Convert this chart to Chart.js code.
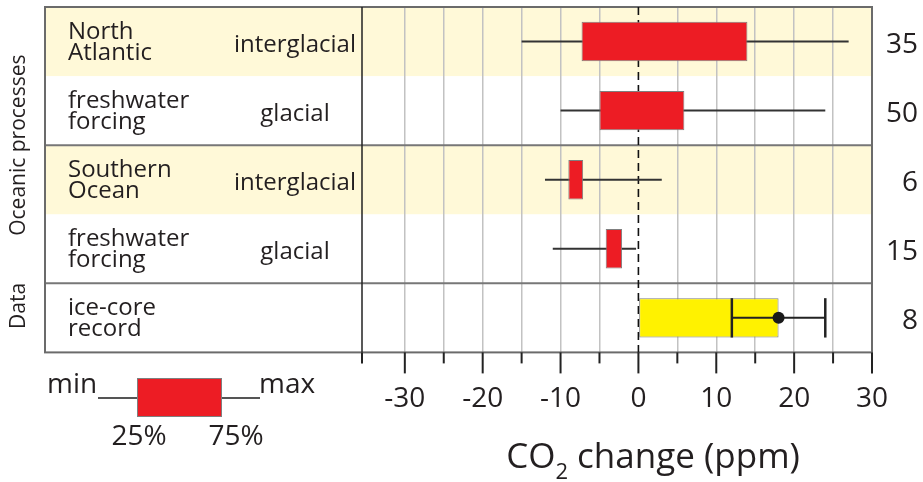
<!DOCTYPE html>
<html>
<head>
<meta charset="utf-8">
<script src="https://cdn.jsdelivr.net/npm/chart.js@4.4.1/dist/chart.umd.min.js"></script>
<style>
  html, body { margin: 0; padding: 0; background: #fff; }
  #wrap { width: 923px; height: 482px; position: relative; }
</style>
</head>
<body>
<div id="wrap"><canvas id="co2-chart"></canvas></div>
<script>
// Rows, top to bottom
const regionLabels = [['North', 'Atlantic'], ['freshwater', 'forcing'], ['Southern', 'Ocean'], ['freshwater', 'forcing'], ['ice-core', 'record']];
const climateStates = ['interglacial', 'glacial', 'interglacial', 'glacial', ''];
const sampleCounts = [35, 50, 6, 15, 8];
const shadedRows = [true, false, true, false, false];

// CO2 change (ppm)
const whiskerMin = [-15, -10, -12, -11, 12];
const boxLow = [-7.3, -5, -9, -4.2, 0];
const boxHigh = [14, 5.9, -7.1, -2.1, 18];
const whiskerMax = [27, 24, 3, -0.3, 24];
const medianValues = [null, null, null, null, 12];
const meanValues = [null, null, null, null, 18];

// row groups on the far left
const groupNames = ['Oceanic processes', 'Data'];
const groupFirstRow = [0, 4];
const groupLastRow = [3, 4];

// x axis
const xMin = -35.5;
const xMax = 30;
const xTickValues = [-30, -25, -20, -15, -10, -5, 0, 5, 10, 15, 20, 25, 30];
const xLabelledTicks = [-30, -20, -10, 0, 10, 20, 30];

const FONT = '"Open Sans", "Noto Sans", sans-serif';
const RED = '#ed1c24';
const YELLOW = '#fff200';
const CREAM = '#fff9d8';
const FRAME_LEFT = 45;

function rowBand(chart, i) {
    const y = chart.scales.y;
    const c = y.getPixelForValue(i);
    const half = (y.getPixelForValue(1) - y.getPixelForValue(0)) / 2;
    return { top: c - half, bottom: c + half, mid: c };
}

function line(ctx, x1, y1, x2, y2, color, width) {
    ctx.beginPath();
    ctx.moveTo(x1, y1);
    ctx.lineTo(x2, y2);
    ctx.strokeStyle = color;
    ctx.lineWidth = width;
    ctx.stroke();
}

const panelPlugin = {
    id: 'panel',
    beforeDraw(chart) {
        const ctx = chart.ctx;
        const area = chart.chartArea;
        ctx.save();
        ctx.fillStyle = '#fff';
        ctx.fillRect(0, 0, chart.width, chart.height);
        shadedRows.forEach((shaded, i) => {
            if (!shaded) return;
            const b = rowBand(chart, i);
            ctx.fillStyle = CREAM;
            ctx.fillRect(FRAME_LEFT, b.top, area.right - FRAME_LEFT, b.bottom - b.top);
        });
        ctx.restore();
    },
    beforeDatasetsDraw(chart) {
        const ctx = chart.ctx;
        const area = chart.chartArea;
        const x = chart.scales.x;
        ctx.save();
        // group separators
        groupFirstRow.forEach(first => {
            if (first === 0) return;
            const b = rowBand(chart, first);
            line(ctx, FRAME_LEFT, b.top, area.right, b.top, '#777', 2);
        });
        // separator between the two oceanic blocks
        const mid = rowBand(chart, 2);
        line(ctx, FRAME_LEFT, mid.top, area.right, mid.top, '#777', 2);
        // outer frame and divider
        ctx.strokeStyle = '#6b6b6b';
        ctx.lineWidth = 2;
        ctx.strokeRect(FRAME_LEFT, area.top, area.right - FRAME_LEFT, area.bottom - area.top);
        line(ctx, area.left, area.top, area.left, area.bottom, '#222', 1.5);
        // zero line
        ctx.setLineDash([8, 5]);
        const x0 = x.getPixelForValue(0);
        line(ctx, x0, area.top, x0, area.bottom, '#111', 1.6);
        ctx.setLineDash([]);
        // whiskers behind the boxes
        whiskerMin.forEach((lo, i) => {
            if (medianValues[i] !== null) return;
            const b = rowBand(chart, i);
            line(ctx, x.getPixelForValue(lo), b.mid, x.getPixelForValue(whiskerMax[i]), b.mid, '#333', 2);
        });
        ctx.restore();
    },
    afterDatasetsDraw(chart) {
        const ctx = chart.ctx;
        const x = chart.scales.x;
        const meta = chart.getDatasetMeta(0);
        ctx.save();
        medianValues.forEach((med, i) => {
            if (med === null) return;
            const bar = meta.data[i];
            const half = bar.height / 2;
            const yc = bar.y;
            const xm = x.getPixelForValue(med);
            const xh = x.getPixelForValue(whiskerMax[i]);
            line(ctx, xm, yc - half, xm, yc + half, '#222', 2.5);
            line(ctx, xm, yc, xh, yc, '#222', 2);
            line(ctx, xh, yc - half, xh, yc + half, '#222', 2.5);
            ctx.beginPath();
            ctx.arc(x.getPixelForValue(meanValues[i]), yc, 6, 0, Math.PI * 2);
            ctx.fillStyle = '#1a1a1a';
            ctx.fill();
        });
        ctx.restore();
    },
    afterDraw(chart) {
        const ctx = chart.ctx;
        const area = chart.chartArea;
        const x = chart.scales.x;
        ctx.save();

        // tick marks under the frame
        const tickVals = [xMin].concat(xTickValues);
        tickVals.forEach(v => {
            const px = x.getPixelForValue(v);
            const len = xLabelledTicks.includes(v) ? 21 : 11;
            line(ctx, px, area.bottom, px, area.bottom + len, '#222', 2);
        });

        // row labels
        ctx.fillStyle = '#231f20';
        ctx.font = '24px ' + FONT;
        ctx.textBaseline = 'alphabetic';
        regionLabels.forEach((lines, i) => {
            const b = rowBand(chart, i);
            ctx.textAlign = 'left';
            ctx.fillText(lines[0], 68, b.mid - 3);
            ctx.fillText(lines[1], 68, b.mid + 18);
            ctx.textAlign = 'center';
            ctx.fillText(climateStates[i], 295, b.mid + 10);
        });

        // sample counts on the right
        ctx.font = '28px ' + FONT;
        ctx.textAlign = 'right';
        sampleCounts.forEach((n, i) => {
            const b = rowBand(chart, i);
            ctx.fillText(String(n), 918, b.mid + 11);
        });

        // group labels, rotated
        ctx.font = '21px ' + FONT;
        ctx.textAlign = 'center';
        ctx.textBaseline = 'middle';
        groupNames.forEach((name, g) => {
            const top = rowBand(chart, groupFirstRow[g]).top;
            const bottom = rowBand(chart, groupLastRow[g]).bottom;
            const cy = g === groupNames.length - 1 ? (top + bottom) / 2 - 12 : (top + bottom) / 2;
            ctx.save();
            ctx.translate(19, cy);
            ctx.rotate(-Math.PI / 2);
            ctx.fillText(name, 0, 0);
            ctx.restore();
        });

        // axis title with subscript
        ctx.textBaseline = 'alphabetic';
        ctx.textAlign = 'left';
        const big = '35px ' + FONT;
        const small = '22px ' + FONT;
        ctx.font = big;
        const w1 = ctx.measureText('CO').width;
        const w3 = ctx.measureText(' change (ppm)').width;
        ctx.font = small;
        const w2 = ctx.measureText('2').width;
        const cx = (area.left + area.right) / 2 + 36;
        let tx = cx - (w1 + w2 + w3) / 2;
        ctx.font = big;
        ctx.fillText('CO', tx, 468);
        ctx.font = small;
        ctx.fillText('2', tx + w1, 479);
        ctx.font = big;
        ctx.fillText(' change (ppm)', tx + w1 + w2, 468);

        // key
        line(ctx, 98, 398, 137, 398, '#555', 2);
        line(ctx, 222, 398, 260, 398, '#555', 2);
        ctx.fillStyle = RED;
        ctx.fillRect(137, 378, 85, 39);
        ctx.strokeStyle = '#7f7f7f';
        ctx.lineWidth = 1;
        ctx.strokeRect(137.5, 378.5, 84, 38);
        ctx.fillStyle = '#231f20';
        ctx.font = '28px ' + FONT;
        ctx.textAlign = 'left';
        ctx.fillText('min', 47, 393);
        ctx.fillText('max', 259, 393);
        ctx.textAlign = 'center';
        ctx.fillText('25%', 139, 445);
        ctx.fillText('75%', 236, 445);

        ctx.restore();
    }
};

function createCo2Chart() {
    const ctx = document.getElementById('co2-chart').getContext('2d');
    new Chart(ctx, {
        type: 'bar',
        data: {
            labels: regionLabels.map((l, i) => l.join(' ') + ' ' + climateStates[i]),
            datasets: [{
                data: boxLow.map((lo, i) => [lo, boxHigh[i]]),
                backgroundColor: medianValues.map(m => m === null ? RED : YELLOW),
                borderColor: '#7f7f7f',
                borderWidth: 1,
                borderSkipped: false,
                barPercentage: 0.57,
                categoryPercentage: 1
            }]
        },
        options: {
            indexAxis: 'y',
            responsive: true,
            maintainAspectRatio: false,
            animation: false,
            layout: {
                padding: { left: 362, right: 51, top: 7, bottom: 36 }
            },
            scales: {
                x: {
                    type: 'linear',
                    min: xMin,
                    max: xMax,
                    afterBuildTicks: scale => {
                        scale.ticks = xTickValues.map(v => ({ value: v }));
                    },
                    grid: {
                        drawTicks: false,
                        lineWidth: 1.5,
                        color: c => (c.tick && (c.tick.value === 0 || c.tick.value === xMax)) ? 'rgba(0,0,0,0)' : '#c2c2c2'
                    },
                    border: { display: false },
                    ticks: {
                        autoSkip: false,
                        maxRotation: 0,
                        padding: 30,
                        color: '#231f20',
                        font: { family: FONT, size: 28 },
                        callback: v => xLabelledTicks.includes(v) ? String(v) : ''
                    }
                },
                y: {
                    display: false,
                    grid: { display: false }
                }
            },
            plugins: {
                legend: { display: false },
                tooltip: { enabled: false }
            }
        },
        plugins: [panelPlugin]
    });
}

createCo2Chart();
</script>
</body>
</html>
